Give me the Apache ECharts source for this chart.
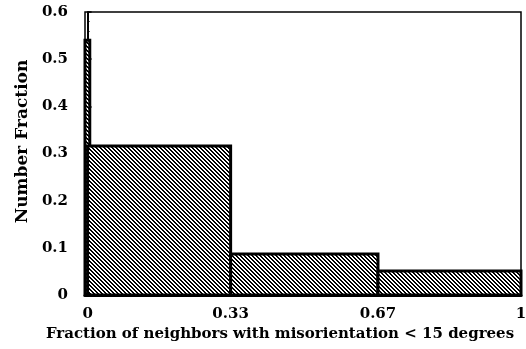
<!DOCTYPE html>
<html>
<head>
<meta charset="utf-8">
<script src="https://cdn.jsdelivr.net/npm/echarts@6/dist/echarts.min.js"></script>
<style>
html,body{margin:0;padding:0;background:#fff;}
#main{width:526px;height:349px;}
</style>
</head>
<body>
<div id="main"></div>
<script>
// Data
const binStart = [-0.006, 0, 0.33, 0.67];
const binEnd = [0.005, 0.33, 0.67, 1];
const fraction = [0.54, 0.316, 0.087, 0.051];
const xTickValues = [0, 0.33, 0.67, 1];
const xTickLabels = ['0', '0.33', '0.67', '1'];
const yTickLabels = ['0', '0.1', '0.2', '0.3', '0.4', '0.5', '0.6'];
const xTitle = 'Fraction of neighbors with misorientation < 15 degrees';
const yTitle = 'Number Fraction';

// hatch pattern
const pc = document.createElement('canvas');
pc.width = 4; pc.height = 4;
const ctx = pc.getContext('2d');
ctx.fillStyle = '#fff';
ctx.fillRect(0, 0, 4, 4);
ctx.fillStyle = '#000';
for (let i = 0; i < 4; i++) {
  ctx.fillRect(i, i, 1, 1);
  ctx.fillRect((i + 1) % 4, i, 1, 1);
}

const font = 'DejaVu Serif';
const chart = echarts.init(document.getElementById('main'), null, {renderer: 'canvas'});
const data = binStart.map((s, i) => [s, binEnd[i], fraction[i]]);

chart.setOption({
  animation: false,
  backgroundColor: '#fff',
  grid: {left: 85, right: 5, top: 12, bottom: 54, show: true, borderColor: '#000', borderWidth: 1.5,
         backgroundColor: 'transparent', outerBoundsMode: 'none', containLabel: false},
  xAxis: {
    type: 'value', min: -0.006, max: 1,
    name: xTitle, nameLocation: 'middle', nameGap: 31,
    nameTextStyle: {fontFamily: font, fontWeight: 'bold', fontSize: 15, color: '#000', padding: [0, 46, 0, 0]},
    axisLine: {show: true, lineStyle: {color: '#000', width: 3}},
    axisTick: {show: false},
    splitLine: {show: false},
    axisLabel: {
      customValues: xTickValues,
      formatter: v => xTickLabels[xTickValues.indexOf(v)] ?? '',
      fontFamily: font, fontWeight: 'bold', fontSize: 15, color: '#000', margin: 12
    }
  },
  yAxis: {
    type: 'value', min: 0, max: 0.6, interval: 0.1,
    name: yTitle, nameLocation: 'middle', nameGap: 52, nameRotate: 90,
    nameTextStyle: {fontFamily: font, fontWeight: 'bold', fontSize: 17, color: '#000', padding: [0, 0, 0, 24]},
    axisLine: {show: true, lineStyle: {color: '#000', width: 2}},
    axisTick: {show: true, inside: true, length: 4, lineStyle: {color: '#000', width: 1.5}},
    minorTick: {show: true, splitNumber: 5, length: 2, lineStyle: {color: '#000'}},
    splitLine: {show: false},
    axisLabel: {
      formatter: v => yTickLabels[Math.round(v * 10)],
      fontFamily: font, fontWeight: 'bold', fontSize: 15, color: '#000', margin: 17
    }
  },
  series: [{
    type: 'custom',
    data: data,
    encode: {x: [0, 1], y: 2},
    renderItem: function (params, api) {
      const p0 = api.coord([api.value(0), 0]);
      const p1 = api.coord([api.value(1), api.value(2)]);
      return {
        type: 'rect',
        shape: {x: p0[0], y: p1[1], width: p1[0] - p0[0], height: p0[1] - p1[1]},
        style: {fill: {image: pc, repeat: 'repeat'}, stroke: '#000', lineWidth: 3}
      };
    }
  }]
});
</script>
</body>
</html>
